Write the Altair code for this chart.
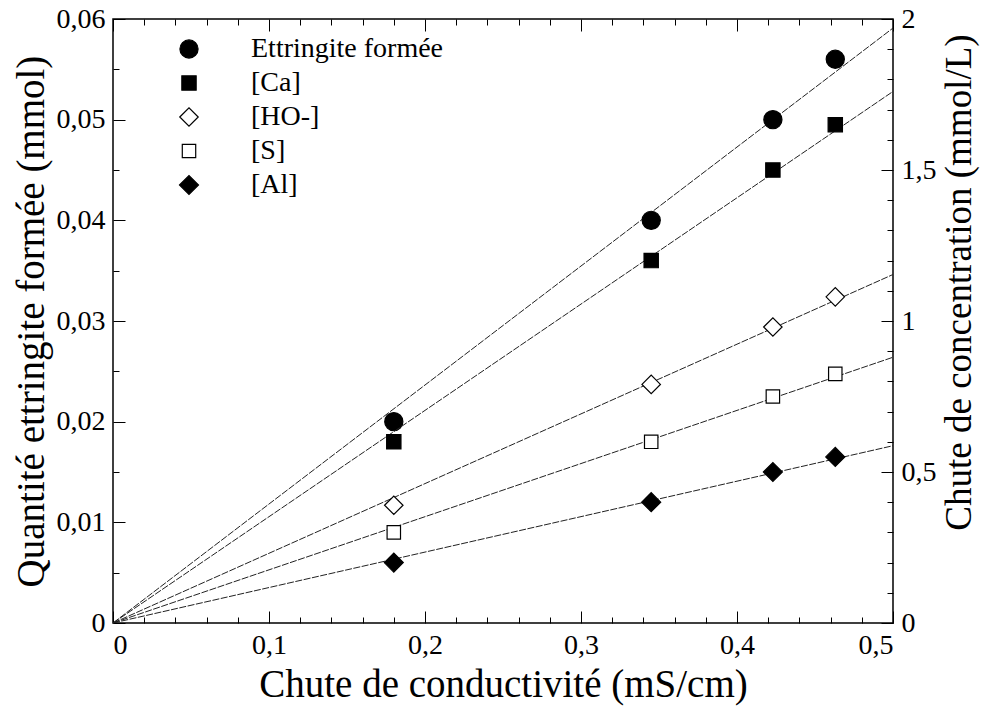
import altair as alt
import pandas as pd

# ---- data ----
x_vals = [0.18, 0.345, 0.423, 0.463]
ettringite = [0.020, 0.040, 0.050, 0.056]          # mmol (left axis)
ca = [0.60, 1.20, 1.50, 1.65]                        # mmol/L (right axis)
ho = [0.39, 0.79, 0.98, 1.08]
s_vals = [0.30, 0.60, 0.75, 0.825]
al = [0.20, 0.40, 0.50, 0.55]

series_names = ["Ettringite formée", "[Ca]", "[HO-]", "[S]", "[Al]"]
series_shapes = ["circle", "square", "diamond", "square", "diamond"]
series_fills = ["black", "black", "white", "white", "black"]
series_strokes = ["black", "black", "black", "black", "black"]
series_sizes = [330, 205, 340, 180, 360]

# fitted lines through the origin: value at x = 0 and x = 0.5
fit_x = [0.0, 0.5]
fit_ett = [0.0, 0.0591]
fit_ca = [0.0, 1.76]
fit_ho = [0.0, 1.154]
fit_s = [0.0, 0.880]
fit_al = [0.0, 0.587]

# ticks
x_major = [0, 0.1, 0.2, 0.3, 0.4, 0.5]
x_minor = [0.02, 0.04, 0.06, 0.08, 0.12, 0.14, 0.16, 0.18, 0.22, 0.24, 0.26, 0.28,
           0.32, 0.34, 0.36, 0.38, 0.42, 0.44, 0.46, 0.48]
yl_major = [0, 0.01, 0.02, 0.03, 0.04, 0.05, 0.06]
yl_minor = [0.005, 0.015, 0.025, 0.035, 0.045, 0.055]
yr_major = [0, 0.5, 1, 1.5, 2]
yr_minor = [0.1, 0.2, 0.3, 0.4, 0.6, 0.7, 0.8, 0.9, 1.1, 1.2, 1.3, 1.4,
            1.6, 1.7, 1.8, 1.9]

FONT = "Liberation Serif"
TICK = 12
MINOR = 6
LABEL_FS = 28
TITLE_FS = 39
TOP = 11          # top padding (frame top at 8 + TOP)
H = 623 - 8 - TOP

# ---- tables ----
ett_pts = pd.DataFrame({"x": x_vals, "y": ettringite, "series": series_names[0]})
oth_pts = pd.concat([
    pd.DataFrame({"x": x_vals, "y": v, "series": n})
    for n, v in zip(series_names[1:], [ca, ho, s_vals, al])
], ignore_index=True)
ett_fit = pd.DataFrame({"x": fit_x, "y": fit_ett, "series": series_names[0]})
oth_fit = pd.concat([
    pd.DataFrame({"x": fit_x, "y": v, "series": n})
    for n, v in zip(series_names[1:], [fit_ca, fit_ho, fit_s, fit_al])
], ignore_index=True)


def minor_test(major):
    return "indexof(" + str(major) + ", datum.value) < 0"


def make_axis(orient, major, minor, fmt, title="", labels=True, **kw):
    test = minor_test(major)
    props = dict(
        orient=orient,
        values=sorted(major + minor),
        domain=False,
        grid=False,
        tickSize=TICK,
        offset=-TICK,
        tickColor="black",
        tickWidth=1,
        tickDash={"condition": {"test": test, "value": [0, TICK - MINOR, MINOR, 100]},
                  "value": [100, 0]},
        labels=labels,
        labelFont=FONT,
        labelFontSize=LABEL_FS,
        labelColor="black",
        titleFont=FONT,
        titleFontSize=TITLE_FS,
        titleFontWeight="normal",
        titleColor="black",
        title=title,
    )
    if labels:
        props["format"] = fmt
        props["labelExpr"] = "(" + test + ") ? '' : replace(datum.label, '.', ',')"
    props.update(kw)
    return alt.Axis(**props)


x_scale = alt.Scale(domain=[0, 0.5], nice=False, zero=False)
yl_scale = alt.Scale(domain=[0, 0.06], nice=False, zero=False)
yr_scale = alt.Scale(domain=[0, 2], nice=False, zero=False)

shape_scale = alt.Scale(domain=series_names, range=series_shapes)
fill_scale = alt.Scale(domain=series_names, range=series_fills)
stroke_scale = alt.Scale(domain=series_names, range=series_strokes)
size_scale = alt.Scale(type="ordinal", domain=series_names, range=series_sizes)

legend = alt.Legend(
    title=None, orient="none", legendX=62, legendY=35 - 8 - TOP,
    labelFont=FONT, labelFontSize=LABEL_FS, labelColor="black", labelLimit=0,
    labelOffset=48, rowPadding=6,
    symbolStrokeWidth=1.2, symbolOpacity=1,
)

line_style = dict(color="#222222", strokeWidth=1, strokeDash=[7, 1.5])

x_bottom = make_axis("bottom", x_major, x_minor, ".1~f",
                     title="Chute de conductivité (mS/cm)", labelPadding=8, titlePadding=6)
x_top = make_axis("top", x_major, x_minor, ".1~f", labels=False)
y_left = make_axis("left", yl_major, yl_minor, ".2~f",
                   title="Quantité ettringite formée (mmol)", labelPadding=8, titlePadding=5)
y_right = make_axis("right", yr_major, yr_minor, ".1~f",
                    title="Chute de concentration (mmol/L)", labelPadding=8, titlePadding=5,
                    titleFontSize=37,
                    titleAngle=270, titleBaseline="top", titleY=282 - 8 - TOP)

pt_mark = dict(filled=True, strokeWidth=1.2, opacity=1, fillOpacity=1)


def point_enc():
    return dict(
        shape=alt.Shape("series:N", scale=shape_scale, legend=legend),
        fill=alt.Fill("series:N", scale=fill_scale, legend=legend),
        stroke=alt.Stroke("series:N", scale=stroke_scale, legend=legend),
        size=alt.Size("series:N", scale=size_scale, legend=legend),
    )


ett_line = alt.Chart(ett_fit).mark_line(**line_style).encode(
    x=alt.X("x:Q", scale=x_scale, axis=x_bottom),
    y=alt.Y("y:Q", scale=yl_scale, axis=y_left),
    detail="series:N",
)
ett_point = alt.Chart(ett_pts).mark_point(**pt_mark).encode(
    x=alt.X("x:Q", scale=x_scale, axis=None),
    y=alt.Y("y:Q", scale=yl_scale, axis=None),
    **point_enc(),
)
oth_line = alt.Chart(oth_fit).mark_line(**line_style).encode(
    x=alt.X("x:Q", scale=x_scale, axis=x_top),
    y=alt.Y("y:Q", scale=yr_scale, axis=y_right),
    detail="series:N",
)
oth_point = alt.Chart(oth_pts).mark_point(**pt_mark).encode(
    x=alt.X("x:Q", scale=x_scale, axis=None),
    y=alt.Y("y:Q", scale=yr_scale, axis=None),
    **point_enc(),
)

chart = (
    alt.layer(ett_line, ett_point, oth_line, oth_point)
    .resolve_scale(y="independent")
    .resolve_axis(x="independent", y="independent")
    .properties(
        width=780, height=H,
        autosize=alt.AutoSizeParams(type="none"),
        padding={"left": 105, "top": TOP, "right": 88, "bottom": 85},
    )
    .configure(background="white", font=FONT)
    .configure_view(stroke="black", strokeWidth=1.5)
    .configure_axis(labelFont=FONT, titleFont=FONT)
    .configure_legend(labelFont=FONT)
)

chart.save("out.html", embed_options={"renderer": "svg", "actions": False})
